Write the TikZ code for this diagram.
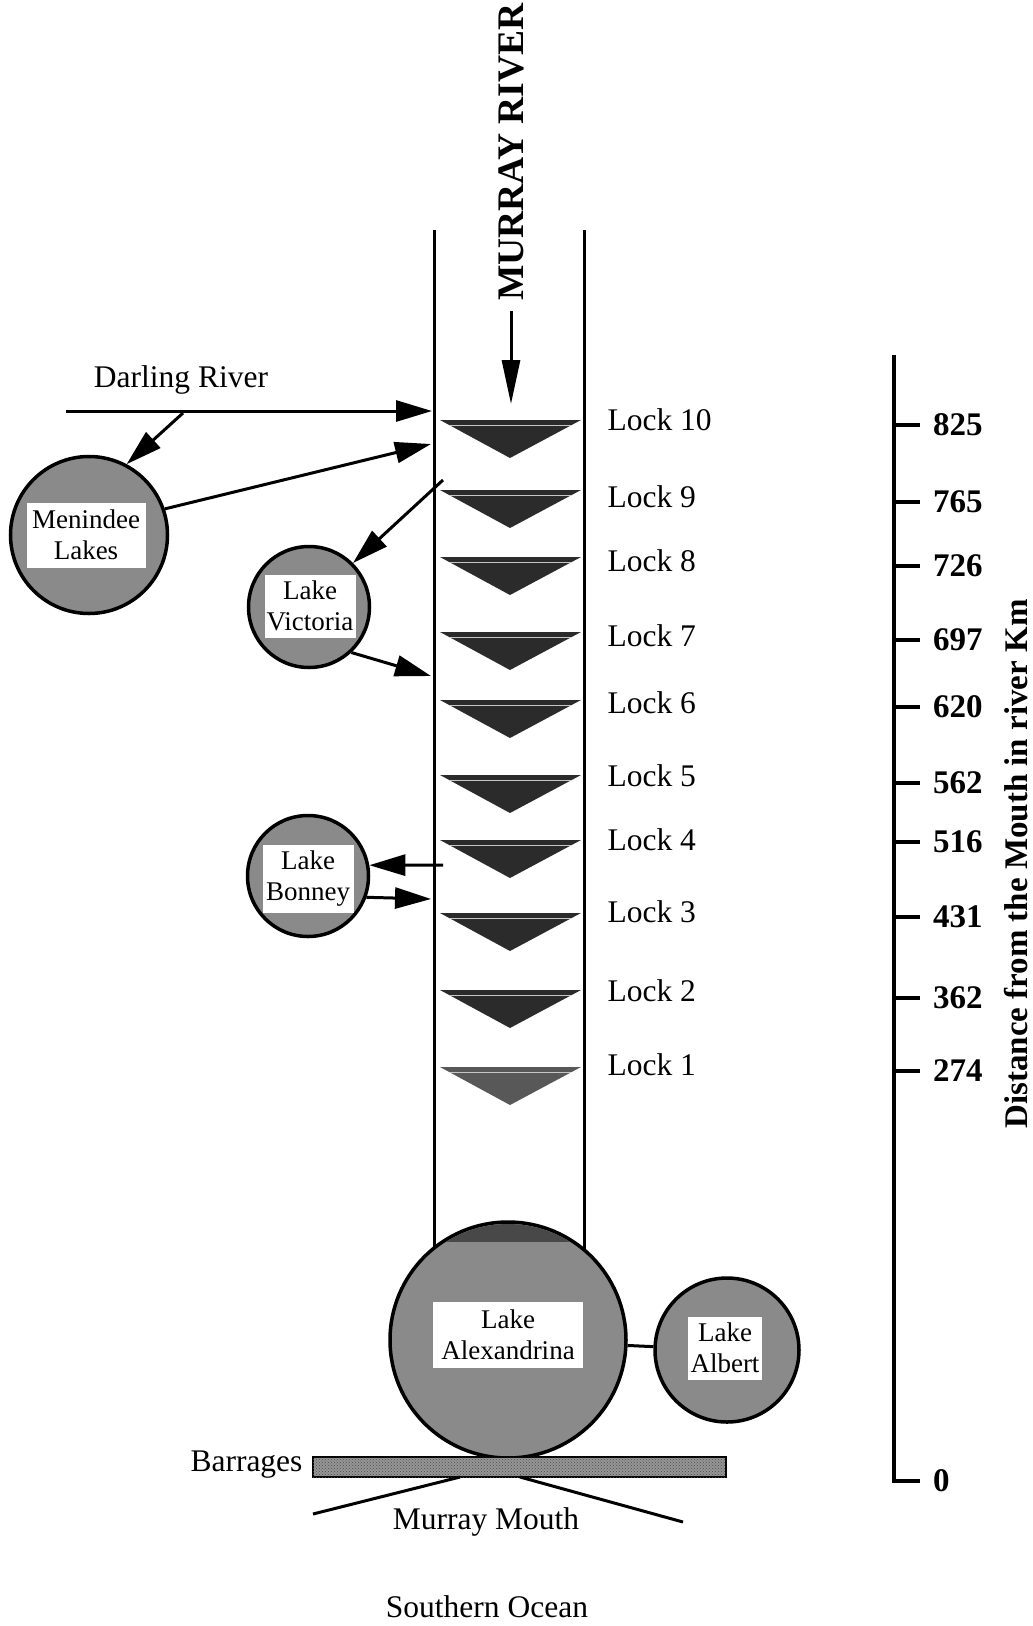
\documentclass[tikz,border=0pt]{standalone}
\usepackage{fontspec}
\setmainfont{Liberation Serif}
\usetikzlibrary{arrows.meta,positioning,patterns,calc}
\definecolor{lakegray}{RGB}{138,138,138}
\definecolor{capgray}{RGB}{72,72,72}
\definecolor{lockdark}{RGB}{43,43,43}
\definecolor{lockpale}{RGB}{88,88,88}
\definecolor{barragegray}{RGB}{150,150,150}
\newcommand{\labelfont}{\fontsize{31.5}{36}\selectfont}
\newcommand{\lakefont}{\fontsize{27}{31}\selectfont}
\newcommand{\kmfont}{\fontsize{33}{36}\selectfont\bfseries}
\newcommand{\titlefont}{\fontsize{37.5}{40}\selectfont\bfseries}
\tikzset{
    lake/.style={
        draw,
        circle,
        line width=3.5pt,
        fill=lakegray,
        inner sep=0pt
    },
    lakelabel/.style={
        fill=white,
        align=center,
        inner sep=1pt,
        font=\lakefont
    },
    flow/.style={-{Triangle[length=36pt,width=21pt]}, line width=3pt},
    wall/.style={line width=3pt},
    locklabel/.style={anchor=west, font=\labelfont},
    kmtick/.style={line width=3.5pt},
    kmlabel/.style={anchor=west, inner sep=1pt, font=\kmfont}
}

\begin{document}
\begin{tikzpicture}[x=1pt, y=-1pt]
        \useasboundingbox (0,0) rectangle (1033,1626);

        % river banks
        \draw[wall] (434,230) -- (434,1252);
        \draw[wall] (584,230) -- (584,1252);

        % title and flow direction
        \node[rotate=90, font=\titlefont] (murray) at (511,152) {MURRAY RIVER};
        \coordinate (flowtop) at (511,311);
        \coordinate (flowend) at (511,404);
        \draw[-{Triangle[length=44pt,width=18pt]}, line width=3pt] (flowtop) -- (flowend);

        % locks
        \foreach \n/\ytop/\ylbl/\lockcol in {10/420/420/lockdark, 9/490/497/lockdark,
            8/557/561/lockdark, 7/632/636/lockdark, 6/700/703/lockdark,
            5/775/776/lockdark, 4/840/840/lockdark, 3/913/912/lockdark,
            2/990/991/lockdark, 1/1067/1065/lockpale} {
            \fill[\lockcol] (440,\ytop) -- (581,\ytop) -- (510,{\ytop+38}) -- cycle;
            \draw[gray!45, line width=0.5pt] (450,{\ytop+5}) -- (571,{\ytop+5});
            \node[locklabel] (lock\n) at (604,\ylbl) {Lock \n};
        }

        % lakes upstream
        \node[lake, minimum size=157pt] (men) at (89,535) {};
        \node[lakelabel, minimum width=119pt, minimum height=65pt] (menlbl) at (86,535) {Menindee\\Lakes};
        \node[lake, minimum size=121pt] (vic) at (309,607) {};
        \node[lakelabel, minimum width=91pt, minimum height=63pt] (viclbl) at (310,606) {Lake\\Victoria};
        \node[lake, minimum size=121pt] (bon) at (308,876) {};
        \node[lakelabel, minimum width=91pt, minimum height=68pt] (bonlbl) at (308,879) {Lake\\Bonney};

        % Darling River
        \node[font=\labelfont] (darling) at (181,380) {Darling River};
        \coordinate (darlingsrc) at (66,411);
        \coordinate (darlingin) at (432,411);
        \coordinate (darlingfork) at (183,413);
        \draw[flow] (darlingsrc) -- (darlingin);
        \draw[flow] (darlingfork) -- (men.62);
        \coordinate (menin) at (431,444);
        \draw[flow] (men.19) -- (menin);

        % Lake Victoria
        \coordinate (vicout) at (443,480);
        \coordinate (vicin) at (431,676);
        \draw[flow] (vicout) -- (vic.45);
        \draw[flow] (vic.-47) -- (vicin);

        % Lake Bonney
        \coordinate (bonout) at (443,865);
        \coordinate (bonin) at (431,899);
        \draw[flow] (bonout) -- (bon.10);
        \draw[flow] (bon.-20) -- (bonin);

        % lower lakes
        \node[lake, minimum size=236pt] (alex) at (508,1340) {};
        \begin{scope}
            \clip (434,1200) rectangle (584,1241);
            \fill[capgray] (alex.center) circle[radius=116pt];
        \end{scope}
        \node[lakelabel, minimum width=150pt, minimum height=66pt] (alexlbl) at (508,1335) {Lake\\Alexandrina};
        \node[lake, minimum size=144pt] (alb) at (727,1350) {};
        \node[lakelabel, minimum width=74pt, minimum height=63pt] (alblbl) at (725,1348) {Lake\\Albert};
        \draw[line width=3pt] (alex) -- (alb);

        % barrages and mouth
        \draw[line width=2.5pt, fill=barragegray, postaction={pattern=crosshatch dots, pattern color=gray!60!black}]
            (313,1457) rectangle (726,1477);
        \node[font=\labelfont, anchor=east] (barrages) at (306,1465) {Barrages};
        \coordinate (mouthla) at (313,1514);
        \coordinate (mouthlb) at (460,1477);
        \coordinate (mouthra) at (520,1477);
        \coordinate (mouthrb) at (683,1522);
        \draw[line width=3pt] (mouthla) -- (mouthlb);
        \draw[line width=3pt] (mouthra) -- (mouthrb);
        \node[font=\labelfont] (mouth) at (486,1522) {Murray Mouth};
        \node[font=\labelfont] (ocean) at (487,1607) {Southern Ocean};

        % distance scale
        \draw[line width=4pt] (894,355) -- (894,1483);
        \foreach \val/\ypos in {825/425, 765/502, 726/566, 697/640, 620/707,
            562/783, 516/842, 431/917, 362/998, 274/1071, 0/1481} {
            \draw[kmtick] (894,\ypos) -- (920,\ypos);
            \node[kmlabel] (km\val) at (932,\ypos) {\val};
        }
        \node[rotate=90, font=\kmfont] (distance) at (1016,864) {Distance from the Mouth in river Km};
    \end{tikzpicture}
\end{document}
